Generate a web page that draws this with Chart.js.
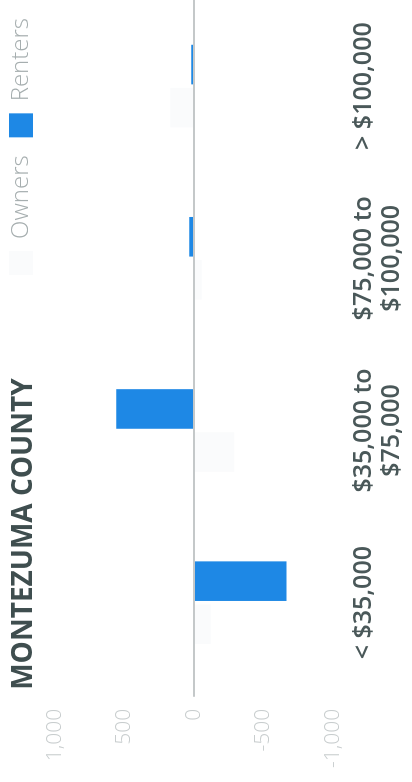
<!DOCTYPE html>
<html>
<head>
<meta charset="utf-8">
<title>Montezuma County</title>
<script src="https://cdn.jsdelivr.net/npm/chart.js@4.4.1/dist/chart.umd.min.js"></script>
<style>
  html, body { margin: 0; padding: 0; background: #fff; overflow: hidden; }
  body { width: 412px; height: 782px; position: relative; }
  /* the chart is laid out landscape and turned a quarter turn to fit the phone screen */
  #chartWrap {
    position: absolute; left: 0; top: 0;
    width: 782px; height: 421px;
    transform-origin: 0 0;
    transform: translate(-9px, 782px) rotate(-90deg);
  }
</style>
</head>
<body>
<div id="chartWrap"><canvas id="tenureChart" width="782" height="421"></canvas></div>
<script>
// ---- Data ----
const countyName = 'MONTEZUMA COUNTY';
const incomeBrackets = [
  '< $35,000',
  ['$35,000 to', '$75,000'],
  ['$75,000 to', '$100,000'],
  '> $100,000',
];
const ownersChange = [-120, -290, -55, 170];
const rentersChange = [-665, 560, 35, 20];
const valueTicks = [-1000, -500, 0, 500, 1000];

const FONT = '"Open Sans", "Noto Sans", sans-serif';

// ---- Title drawn in the same row as the legend ----
const countyTitle = {
  id: 'countyTitle',
  beforeInit(chart) {
    // leave a little more room between the legend row and the plot
    const fit = chart.legend.fit;
    chart.legend.fit = function () {
      fit.bind(chart.legend)();
      this.height += 12;
    };
  },
  afterDraw(chart) {
    const { ctx, chartArea } = chart;
    ctx.save();
    ctx.font = `700 28px ${FONT}`;
    ctx.fillStyle = '#3f4e4f';
    ctx.textAlign = 'left';
    ctx.textBaseline = 'alphabetic';
    ctx.fillText(countyName, chartArea.left - 1, 41);
    ctx.restore();
  },
};

new Chart(document.getElementById('tenureChart').getContext('2d'), {
  type: 'bar',
  data: {
    labels: incomeBrackets,
    datasets: [
      {
        label: 'Owners',
        data: ownersChange,
        backgroundColor: '#fafbfc',
        categoryPercentage: 0.5,
        barPercentage: 0.92,
      },
      {
        label: 'Renters',
        data: rentersChange,
        backgroundColor: '#1e88e5',
        categoryPercentage: 0.5,
        barPercentage: 0.92,
      },
    ],
  },
  options: {
    responsive: false,
    animation: false,
    devicePixelRatio: 1,
    layout: { padding: { left: 2, right: 0, top: 0, bottom: 0 } },
    plugins: {
      legend: {
        position: 'top',
        align: 'end',
        labels: {
          boxWidth: 24,
          boxHeight: 24,
          padding: 18,
          color: '#a6aeaf',
          font: { family: FONT, size: 24, weight: '300' },
        },
      },
      title: { display: false },
      tooltip: { enabled: false },
    },
    scales: {
      x: {
        grid: { display: false },
        border: { display: false },
        afterFit(scale) {
          scale.height = 79;
        },
        ticks: {
          autoSkip: false,
          maxRotation: 0,
          padding: 9,
          color: '#4a5859',
          font: { family: FONT, size: 25, weight: '600', lineHeight: 1.12 },
        },
      },
      y: {
        min: valueTicks[0],
        max: valueTicks[valueTicks.length - 1],
        afterBuildTicks(scale) {
          scale.ticks = valueTicks.map((v) => ({ value: v }));
        },
        border: { display: false },
        grid: {
          color: (ctx) => (ctx.tick && ctx.tick.value === 0 ? '#c4c8c9' : 'transparent'),
          lineWidth: 2,
          tickLength: 8,
        },
        ticks: {
          padding: 12,
          color: '#c8cdce',
          font: { family: FONT, size: 21, weight: '300' },
          callback: (v) => Number(v).toLocaleString('en-US'),
        },
      },
    },
  },
  plugins: [countyTitle],
});
</script>
</body>
</html>
